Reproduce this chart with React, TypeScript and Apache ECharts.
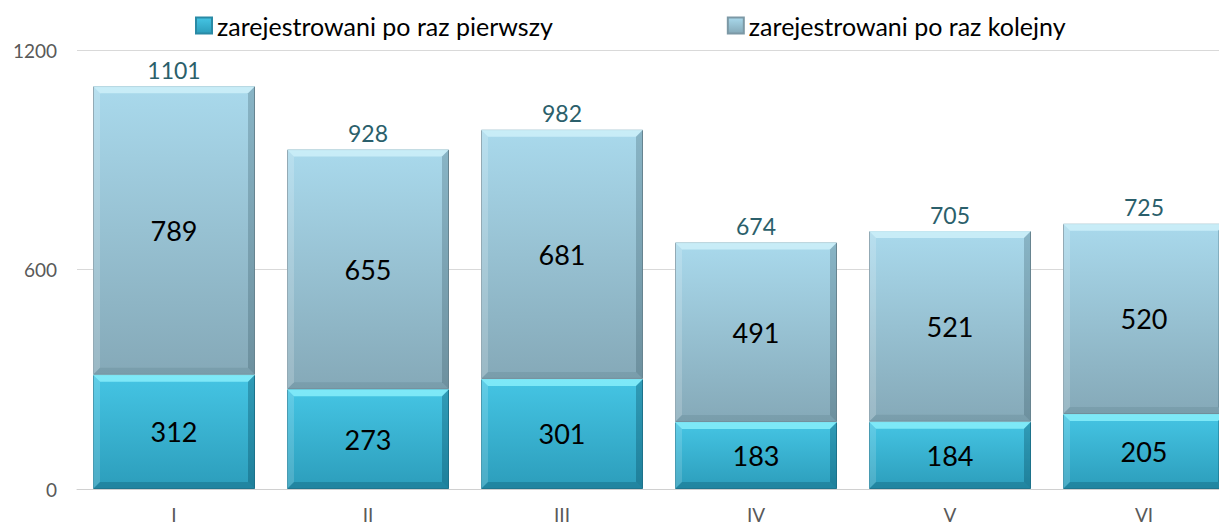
import React, { useEffect, useRef } from "react";
import * as echarts from "echarts";

const categories = ["I", "II", "III", "IV", "V", "VI"];
const firstTime = [312, 273, 301, 183, 184, 205];
const nextTime = [789, 655, 681, 491, 521, 520];
const totals = [1101, 928, 982, 674, 705, 725];
const seriesNames = ["zarejestrowani po raz pierwszy", "zarejestrowani po raz kolejny"];

const FONT = "Lato, 'Open Sans', sans-serif";
const BAR_W = 162;

export default function App() {
  const ref = useRef<HTMLDivElement>(null);
  useEffect(() => {
    if (!ref.current) return;
    const chart = echarts.init(ref.current, undefined, { renderer: "svg" });
    const cyan = new echarts.graphic.LinearGradient(0, 0, 0, 1, [
      { offset: 0, color: "#45c5e4" },
      { offset: 1, color: "#2c9dbb" },
    ]);
    const grey = new echarts.graphic.LinearGradient(0, 0, 0, 1, [
      { offset: 0, color: "#a9d9ec" },
      { offset: 1, color: "#85a9b8" },
    ]);
    const bevelData: number[][] = [];
    categories.forEach((_, i) => {
      bevelData.push([i, 0, firstTime[i], 0]);
      bevelData.push([i, firstTime[i], firstTime[i] + nextTime[i], 1]);
    });
    const bevelColors = [
      { top: "#84ecfa", left: "rgba(255,255,255,0.15)", right: "rgba(0,60,80,0.3)", bottom: "rgba(0,60,80,0.25)" },
      { top: "#cbeef8", left: "rgba(255,255,255,0.18)", right: "rgba(40,70,85,0.25)", bottom: "rgba(40,70,85,0.12)" },
    ];
    chart.setOption({
      animation: false,
      textStyle: { fontFamily: FONT },
      legend: {
        data: seriesNames,
        top: 8,
        left: 190,
        itemGap: 174,
        itemWidth: 16,
        itemHeight: 16,
        icon: "rect",
        textStyle: { fontSize: 25, color: "#000", fontFamily: FONT },
      },
      grid: { left: 77, top: 50, width: 1164, height: 439, containLabel: false },
      xAxis: {
        type: "category",
        data: categories,
        axisLine: { lineStyle: { color: "#d0d0d0", width: 1 } },
        axisTick: { show: false },
        axisLabel: { color: "#595959", fontSize: 19, margin: 16, fontFamily: FONT },
      },
      yAxis: {
        type: "value",
        min: 0,
        max: 1200,
        interval: 600,
        axisLabel: { color: "#595959", fontSize: 19, margin: 20, fontFamily: FONT, formatter: (v: number) => String(v) },
        splitLine: { lineStyle: { color: "#d9d9d9", width: 1 } },
        axisLine: { show: false },
        axisTick: { show: false },
      },
      series: [
        {
          name: seriesNames[0],
          type: "bar",
          stack: "t",
          data: firstTime,
          barWidth: BAR_W,
          itemStyle: { color: cyan, borderColor: "#2a8aa5", borderWidth: 1 },
          label: { show: true, position: "inside", color: "#000", fontSize: 27, fontFamily: FONT },
          z: 2,
        },
        {
          name: seriesNames[1],
          type: "bar",
          stack: "t",
          data: nextTime,
          barWidth: BAR_W,
          itemStyle: { color: grey, borderColor: "#7c98a5", borderWidth: 1 },
          label: { show: true, position: "inside", color: "#000", fontSize: 27, fontFamily: FONT },
          z: 2,
        },
        {
          name: "total",
          type: "bar",
          stack: "t",
          data: totals.map(() => 0),
          barWidth: BAR_W,
          itemStyle: { color: "transparent" },
          label: {
            show: true,
            position: "top",
            distance: 5,
            color: "#2b5f6b",
            fontSize: 23,
            fontFamily: FONT,
            formatter: (p: any) => String(totals[p.dataIndex]),
          },
        },
        {
          name: "bevel",
          type: "custom",
          silent: true,
          z: 3,
          data: bevelData,
          renderItem: (params: any, api: any) => {
            const ci = api.value(0);
            const s = api.value(1);
            const e = api.value(2);
            const si = api.value(3);
            const p0 = api.coord([ci, s]);
            const p1 = api.coord([ci, e]);
            const x0 = p0[0] - BAR_W / 2;
            const x1 = p0[0] + BAR_W / 2;
            const yb = p0[1];
            const yt = p1[1];
            const b = 7;
            const c = bevelColors[si];
            return {
              type: "group",
              children: [
                {
                  type: "polygon",
                  shape: { points: [[x0, yt], [x1, yt], [x1 - b, yt + b], [x0 + b, yt + b]] },
                  style: { fill: c.top, opacity: 0.9 },
                },
                {
                  type: "polygon",
                  shape: { points: [[x0, yt], [x0 + b, yt + b], [x0 + b, yb - b], [x0, yb]] },
                  style: { fill: c.left },
                },
                {
                  type: "polygon",
                  shape: { points: [[x1, yt], [x1, yb], [x1 - b, yb - b], [x1 - b, yt + b]] },
                  style: { fill: c.right },
                },
                {
                  type: "polygon",
                  shape: { points: [[x0, yb], [x0 + b, yb - b], [x1 - b, yb - b], [x1, yb]] },
                  style: { fill: c.bottom },
                },
              ],
            };
          },
        },
      ],
    });
    return () => chart.dispose();
  }, []);
  return (
    <div
      ref={ref}
      style={{ position: "fixed", left: 0, top: 0, width: 1260, height: 527, background: "#fff" }}
    />
  );
}
